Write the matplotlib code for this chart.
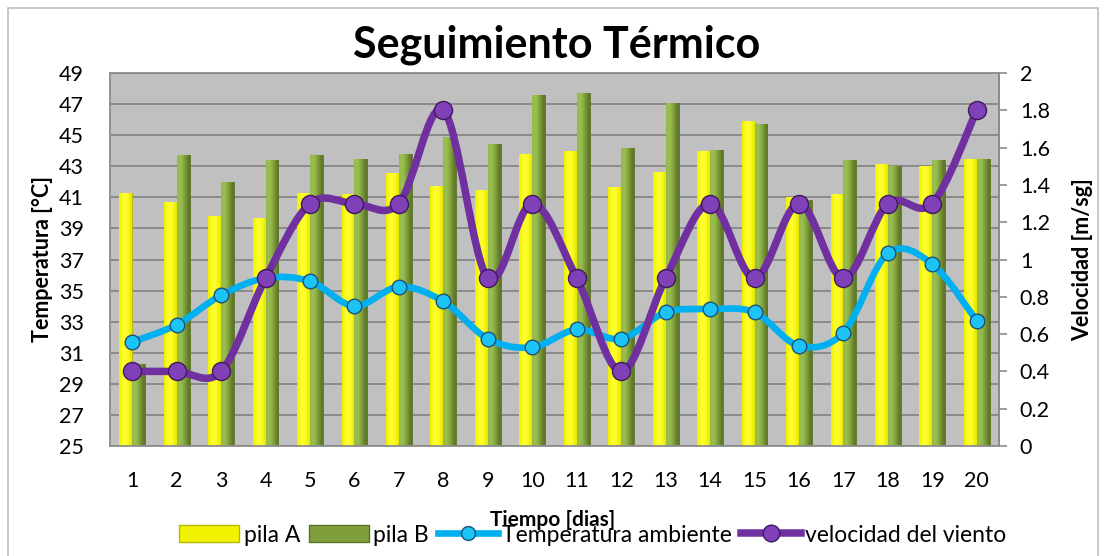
import numpy as np
import matplotlib
matplotlib.use("Agg")
import matplotlib.pyplot as plt
from matplotlib.path import Path
from matplotlib.patches import PathPatch, Rectangle, Patch
from matplotlib.lines import Line2D
from matplotlib.colors import LinearSegmentedColormap

plt.rcParams['font.family'] = ['Lato', 'DejaVu Sans']

days = list(range(1, 21))
pila_a = [41.3, 40.7, 39.8, 39.65, 41.3, 41.2, 42.55, 41.75, 41.5, 43.8,
          44.0, 41.65, 42.6, 44.0, 45.9, 41.0, 41.2, 43.15, 43.0, 43.45]
pila_b = [30.3, 43.7, 42.0, 43.4, 43.7, 43.45, 43.8, 44.9, 44.4, 47.6,
          47.7, 44.2, 47.1, 44.05, 45.7, 40.8, 43.4, 43.0, 43.4, 43.45]
temp_amb = [31.7, 32.8, 34.7, 35.8, 35.6, 34.0, 35.25, 34.3, 31.9, 31.35,
            32.5, 31.9, 33.6, 33.8, 33.6, 31.45, 32.3, 37.4, 36.7, 33.05]
viento = [0.4, 0.4, 0.4, 0.9, 1.3, 1.3, 1.3, 1.8, 0.9, 1.3,
          0.9, 0.4, 0.9, 1.3, 0.9, 1.3, 0.9, 1.3, 1.3, 1.8]
left_ticks = list(range(25, 50, 2))
right_ticks = [0, 0.2, 0.4, 0.6, 0.8, 1, 1.2, 1.4, 1.6, 1.8, 2]
right_labels = ['0', '0.2', '0.4', '0.6', '0.8', '1', '1.2', '1.4', '1.6', '1.8', '2']

YELLOW = '#f2f200'
GREEN = '#7f9f3a'
BLUE = '#00b0f0'
PURPLE = '#7030a0'


def smooth_path(x, y):
    x = np.asarray(x, float)
    y = np.asarray(y, float)
    xp = np.concatenate([[x[0]], x, [x[-1]]])
    yp = np.concatenate([[y[0]], y, [y[-1]]])
    verts = [(x[0], y[0])]
    codes = [Path.MOVETO]
    for i in range(len(x) - 1):
        c1 = (xp[i + 1] + (xp[i + 2] - xp[i]) / 6, yp[i + 1] + (yp[i + 2] - yp[i]) / 6)
        c2 = (xp[i + 2] - (xp[i + 3] - xp[i + 1]) / 6, yp[i + 2] - (yp[i + 3] - yp[i + 1]) / 6)
        verts += [c1, c2, (xp[i + 2], yp[i + 2])]
        codes += [Path.CURVE4] * 3
    return Path(verts, codes)


fig = plt.figure(figsize=(11.06, 5.56), dpi=100)
fig.patches.append(Rectangle((8 / 1106, -0.01), 1090 / 1106, 1 - 8 / 556 + 0.01,
                             transform=fig.transFigure, fill=False,
                             edgecolor='#bfbfbf', linewidth=1.2))
ax = fig.add_axes([110 / 1106, 1 - 446 / 556, (999 - 110) / 1106, (446 - 73) / 556])
ax.set_facecolor('#c0c0c0')
ax.set_xlim(0.5, 20.5)
ax.set_ylim(25, 49)
ax.set_yticks(left_ticks)
ax.yaxis.grid(True, color='#868686', linewidth=1.3)
ax.set_axisbelow(True)
for s in ax.spines.values():
    s.set_color('#8c8c8c')
    s.set_linewidth(1.3)

w = 0.29
xs = np.array(days, float)
ga = np.array([[0.75, 0.95, 1.0, 0.97, 0.88, 0.72]])
gb = np.array([[0.95, 1.0, 0.92, 0.80, 0.68, 0.58]])
cmap_a = LinearSegmentedColormap.from_list('a', ['#a8a800', '#f0f000', '#ffff30'])
cmap_b = LinearSegmentedColormap.from_list('b', ['#4e6420', '#7b9a38', '#9cc150'])
bars_a = ax.bar(xs - w / 2, pila_a, width=w, color=YELLOW, edgecolor='#b8b800', linewidth=0.6, zorder=2)
bars_b = ax.bar(xs + w / 2, pila_b, width=w, color=GREEN, edgecolor='#5a7324', linewidth=0.6, zorder=2)
for bars, g, cm in ((bars_a, ga, cmap_a), (bars_b, gb, cmap_b)):
    for r in bars:
        x0 = r.get_x()
        im = ax.imshow(g, cmap=cm, vmin=0.5, vmax=1.0, extent=(x0, x0 + r.get_width(), 25, r.get_height()),
                       aspect='auto', interpolation='bicubic', zorder=2.1)
        im.set_clip_path(r)
ax.set_xlim(0.5, 20.5)
ax.set_ylim(25, 49)

ax.add_patch(PathPatch(smooth_path(days, temp_amb), facecolor='none', edgecolor=BLUE,
                       linewidth=4.8, capstyle='round', zorder=3))
ax.plot(days, temp_amb, linestyle='none', marker='o', markersize=10.5,
        markerfacecolor='#1cc4f5', markeredgecolor='#1f4f7a', markeredgewidth=1.0, zorder=4)

ax.set_xticks(days)
ax.tick_params(axis='x', length=0, pad=18, labelsize=15.5)
ax.tick_params(axis='y', length=0, pad=19, labelsize=15.5)
ax.set_ylabel('Temperatura [°C]', fontsize=15.5, fontweight='bold', labelpad=4)

ax2 = ax.twinx()
ax2.set_ylim(0, 2)
ax2.set_yticks(right_ticks)
ax2.set_yticklabels(right_labels)
ax2.tick_params(axis='y', length=6, width=1.2, color='#8c8c8c', pad=9, labelsize=15.5, direction='out')
for s in ax2.spines.values():
    s.set_visible(False)
ax2.spines['right'].set_visible(True)
ax2.spines['right'].set_color('#8c8c8c')
ax2.spines['right'].set_linewidth(1.3)
ax2.add_patch(PathPatch(smooth_path(days, viento), facecolor='none', edgecolor=PURPLE,
                        linewidth=5.4, capstyle='round', zorder=3))
ax2.plot(days, viento, linestyle='none', marker='o', markersize=13,
         markerfacecolor='#8040b8', markeredgecolor='#3d1a5c', markeredgewidth=1.0, zorder=4)
ax2.set_ylabel('Velocidad [m/sg]', fontsize=15.5, fontweight='bold', labelpad=16)

fig.text(557 / 1106, 1 - 45 / 556, 'Seguimiento Térmico', ha='center', va='center',
         fontsize=31, fontweight='bold')
fig.text(553 / 1106, 1 - 520 / 556, 'Tiempo [dias]', ha='center', va='center',
         fontsize=15, fontweight='bold')

handles = [Patch(facecolor=YELLOW, edgecolor='#b8b800'),
           Patch(facecolor=GREEN, edgecolor='#5a7324'),
           Line2D([], [], color=BLUE, linewidth=4.8, marker='o', markersize=10,
                  markerfacecolor='#1cc4f5', markeredgecolor='#1f4f7a'),
           Line2D([], [], color=PURPLE, linewidth=5.4, marker='o', markersize=12,
                  markerfacecolor='#8040b8', markeredgecolor='#3d1a5c')]
labels = ['pila A', 'pila B', 'Temperatura ambiente', 'velocidad del viento']
fig.legend(handles, labels, loc='center', bbox_to_anchor=(593 / 1106, 1 - 535 / 556), ncol=4,
           frameon=False, fontsize=16.5, handlelength=2.6, handleheight=0.75, handletextpad=0.2,
           columnspacing=0.4, borderpad=0)

fig.savefig('out.png', dpi=100)
